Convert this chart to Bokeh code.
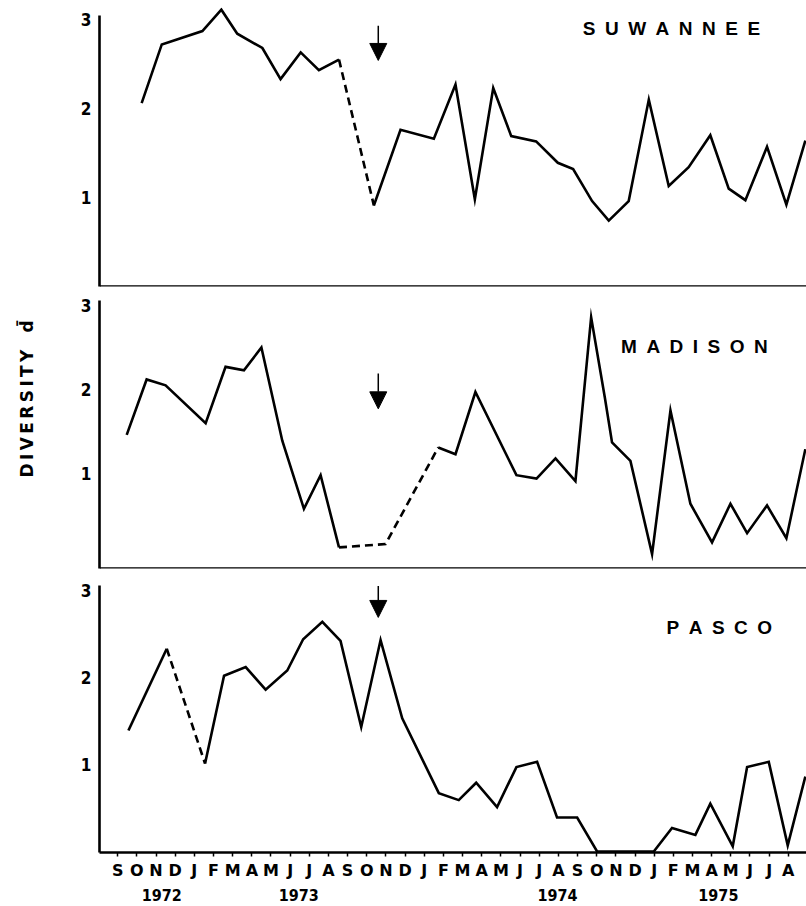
import math
from bokeh.plotting import figure
from bokeh.layouts import column
from bokeh.models import Range1d, FixedTicker, Span, Label, Arrow, NormalHead, LinearAxis
from bokeh.embed import file_html
from bokeh.resources import INLINE

# ---------------- data ----------------
month_letters = ["S", "O", "N", "D", "J", "F", "M", "A", "M", "J", "J", "A"] * 3
year_labels = ["1972", "1973", "1974", "1975"]
year_month = [2.3, 9.45, 22.95, 31.35]
event_month = 13.6

suw_month = [1.25, 2.3, 4.42, 5.41, 6.24, 7.55, 8.5, 9.55, 10.5, 11.55, 13.37, 14.76,
             16.5, 17.63, 18.64, 19.6, 20.54, 21.84, 22.97, 23.77, 24.76, 25.63, 26.67,
             27.72, 28.76, 29.8, 30.93, 31.89, 32.76, 33.89, 34.9, 35.89]
suw_value = [2.06, 2.72, 2.87, 3.11, 2.84, 2.68, 2.33, 2.63, 2.43, 2.55, 0.91, 1.76,
             1.66, 2.27, 0.98, 2.23, 1.69, 1.63, 1.39, 1.32, 0.96, 0.74, 0.96,
             2.10, 1.13, 1.34, 1.70, 1.10, 0.97, 1.57, 0.92, 1.64]
suw_dashed = [(9, 10)]

mad_month = [0.47, 1.51, 2.5, 4.59, 5.63, 6.59, 7.5, 8.59, 9.72, 10.59, 11.55, 13.98,
             16.73, 17.63, 18.67, 20.81, 21.86, 22.85, 23.89, 24.71, 25.42, 25.8, 26.76,
             27.89, 28.85, 29.89, 31.02, 31.98, 32.85, 33.89, 34.9, 35.89]
mad_value = [1.46, 2.12, 2.05, 1.60, 2.27, 2.23, 2.50, 1.39, 0.58, 0.98, 0.12, 0.16,
             1.31, 1.23, 1.97, 0.98, 0.94, 1.18, 0.91, 2.86, 1.91, 1.37, 1.15,
             0.04, 1.75, 0.64, 0.18, 0.64, 0.29, 0.62, 0.23, 1.29]
mad_dashed = [(10, 12)]

pas_month = [0.56, 2.56, 4.56, 5.55, 6.68, 7.72, 8.85, 9.68, 10.68, 11.63, 12.71, 13.72,
             14.85, 16.76, 17.8, 18.71, 19.8, 20.81, 21.89, 22.93, 23.98, 25.02, 27.98,
             28.93, 30.15, 30.93, 32.1, 32.85, 33.98, 34.97, 35.89]
pas_value = [1.39, 2.33, 1.01, 2.02, 2.12, 1.86, 2.08, 2.44, 2.64, 2.42, 1.43, 2.43,
             1.53, 0.67, 0.59, 0.79, 0.51, 0.97, 1.03, 0.39, 0.39, 0.0, 0.0,
             0.27, 0.19, 0.55, 0.06, 0.97, 1.03, 0.07, 0.86]
pas_dashed = [(1, 2)]

stations = ["SUWANNEE", "MADISON", "PASCO"]
y_title = ["DIVERSITY", "d\u0304"]

# ---------------- styling ----------------
NUM_FONT = "DejaVu Sans Condensed, Liberation Sans Narrow, DejaVu Sans"
BOLD_FONT = "DejaVu Sans"
NAME_FONT = "Liberation Sans"
LW = 2.6


def make_fig(height, y0, y1, top, bottom, axis_top, with_xaxis):
    p = figure(width=806, height=height,
               x_range=Range1d(-0.95, 35.95), y_range=Range1d(y0, y1),
               output_backend="svg", toolbar_location=None,
               x_axis_location="below" if with_xaxis else None,
               min_border_left=99, min_border_right=0,
               min_border_top=top, min_border_bottom=bottom)
    p.outline_line_color = None
    p.background_fill_color = "white"
    p.border_fill_color = "white"
    p.grid.visible = False
    ax = p.yaxis[0]
    ax.ticker = FixedTicker(ticks=[1, 2, 3])
    ax.bounds = (y0, axis_top)
    ax.major_tick_out = 0
    ax.major_tick_in = 0
    ax.minor_tick_out = 0
    ax.minor_tick_in = 0
    ax.axis_line_width = LW
    ax.axis_line_color = "black"
    ax.major_label_text_font = NUM_FONT
    ax.major_label_text_font_style = "bold"
    ax.major_label_text_font_size = "17px"
    ax.major_label_text_color = "black"
    ax.major_label_standoff = 8
    if not with_xaxis:
        p.add_layout(Span(location=y0, dimension="width", line_color="black", line_width=LW))
    return p


def draw_series(p, months, values, dashed):
    dashed_steps = set()
    for a, b in dashed:
        for k in range(a, b):
            dashed_steps.add(k)
    n = len(months)
    start = 0
    while start < n - 1:
        is_d = start in dashed_steps
        end = start
        while end < n - 1 and ((end in dashed_steps) == is_d):
            end += 1
        xs = months[start:end + 1]
        ys = values[start:end + 1]
        p.line(xs, ys, line_width=LW, line_color="black", line_join="miter",
               line_dash="8 5" if is_d else "solid")
        start = end


def add_name(p, name, x, y):
    p.add_layout(Label(x=x, y=y, text="\u2002".join(name), text_font=NAME_FONT,
                       text_font_style="bold", text_font_size="19px",
                       text_align="center", text_baseline="middle", text_color="black"))


def add_arrow(p, y_start, y_end):
    p.add_layout(Arrow(x_start=event_month, y_start=y_start, x_end=event_month, y_end=y_end,
                       line_width=1.5, line_color="black",
                       end=NormalHead(size=17, fill_color="black", line_color="black",
                                      line_width=1)))


# Suwannee
p1 = make_fig(293, 0.0, 3.135, 7, 7, 3.04, False)
draw_series(p1, suw_month, suw_value, suw_dashed)
add_name(p1, stations[0], 28.9, 2.9)
add_arrow(p1, 2.93, 2.54)

# Madison
p2 = make_fig(283, -0.131, 3.06, 7, 8, 3.06, False)
draw_series(p2, mad_month, mad_value, mad_dashed)
add_name(p2, stations[1], 30.1, 2.51)
add_arrow(p2, 2.19, 1.77)
ya2 = p2.yaxis[0]
ya2.axis_label = "\u00a0" * 12 + "\u2009".join(y_title[0]) + "\u2003" + y_title[1]
ya2.axis_label_text_font = BOLD_FONT
ya2.axis_label_text_font_style = "bold"
ya2.axis_label_text_font_size = "17px"
ya2.axis_label_text_color = "black"
ya2.axis_label_standoff = 41

# Pasco
p3 = make_fig(330, -0.012, 3.057, 9, 54, 3.057, True)
draw_series(p3, pas_month, pas_value, pas_dashed)
add_name(p3, stations[2], 31.4, 2.57)
add_arrow(p3, 3.05, 2.69)

xa = p3.xaxis[0]
xa.ticker = FixedTicker(ticks=list(range(len(month_letters))))
xa.major_label_overrides = {i: m for i, m in enumerate(month_letters)}
xa.major_tick_out = 4
xa.major_tick_in = 0
xa.minor_tick_out = 0
xa.minor_tick_in = 0
xa.axis_line_width = LW
xa.axis_line_color = "black"
xa.major_tick_line_width = 1.5
xa.major_label_text_font = BOLD_FONT
xa.major_label_text_font_style = "bold"
xa.major_label_text_font_size = "16px"
xa.major_label_text_color = "black"
xa.major_label_standoff = 4

year_axis = LinearAxis(ticker=FixedTicker(ticks=year_month),
                       major_label_overrides={m: y for m, y in zip(year_month, year_labels)},
                       axis_line_color=None, major_tick_line_color=None,
                       minor_tick_line_color=None,
                       major_label_text_font=NUM_FONT, major_label_text_font_style="bold",
                       major_label_text_font_size="16px", major_label_text_color="black",
                       major_label_standoff=0)
p3.add_layout(year_axis, "below")

layout = column(p1, p2, p3, spacing=0)
open("out.html", "w").write(file_html(layout, INLINE))
